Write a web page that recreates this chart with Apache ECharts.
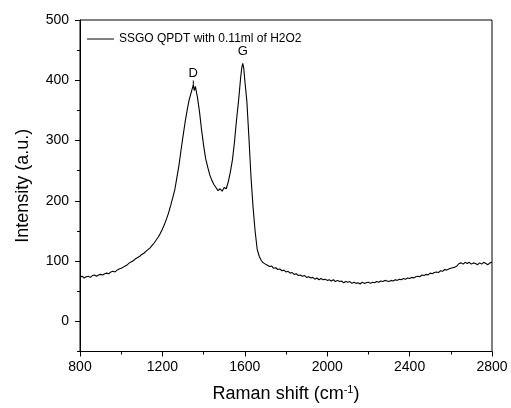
<!DOCTYPE html>
<html>
<head>
<meta charset="utf-8">
<script src="https://cdn.jsdelivr.net/npm/echarts@6/dist/echarts.min.js"></script>
<style>
html,body{margin:0;padding:0;background:#fff;}
#chart{width:511px;height:408px;}
</style>
</head>
<body>
<div id="chart"></div>
<script>
const seriesName = 'SSGO QPDT with 0.11ml of H2O2';
const ramanShift = [
800,810,820,830,840,850,860,870,880,890,900,910,920,930,940,950,960,970,980,990,
1000,1010,1020,1030,1040,1050,1060,1070,1080,1090,1100,1110,1120,1130,1140,1150,1160,1170,1180,1190,
1200,1210,1220,1230,1240,1250,1260,1270,1280,1290,1300,1310,1320,1330,1340,1345,1350,1355,1360,1370,
1380,1390,1400,1410,1420,1430,1440,1450,1460,1470,1480,1490,1500,1510,1520,1530,1540,1550,1560,1570,
1580,1585,1590,1595,1600,1610,1620,1630,1640,1650,1660,1670,1680,1690,1700,1710,1720,1730,1740,1750,
1760,1770,1780,1790,1800,1810,1820,1830,1840,1850,1860,1870,1880,1890,1900,1910,1920,1930,1940,1950,
1960,1970,1980,1990,2000,2010,2020,2030,2040,2050,2060,2070,2080,2090,2100,2110,2120,2130,2140,2150,
2160,2170,2180,2190,2200,2210,2220,2230,2240,2250,2260,2270,2280,2290,2300,2310,2320,2330,2340,2350,
2360,2370,2380,2390,2400,2410,2420,2430,2440,2450,2460,2470,2480,2490,2500,2510,2520,2530,2540,2550,
2560,2570,2580,2590,2600,2610,2620,2630,2640,2650,2660,2670,2680,2690,2700,2710,2720,2730,2740,2750,
2760,2770,2780,2790,2800
];
const intensity = [
73,75,72,74,75,73,76,77,75,77,78,77,79,80,79,82,83,82,85,87,
88,90,92,94,97,99,101,104,106,108,111,113,116,119,122,126,130,135,140,146,
153,161,170,180,192,205,218,238,258,283,307,330,350,368,380,386,392,383,390,372,
348,318,292,270,256,243,234,227,222,217,220,216,222,220,232,248,268,298,335,367,
405,420,428,420,400,365,305,240,190,150,120,108,101,97,95,93,91,92,88,89,
86,87,84,85,82,83,80,81,78,79,76,77,75,76,73,74,72,73,70,72,
69,71,69,70,68,69,67,69,66,68,66,67,64,66,65,66,63,65,63,64,
62,65,63,64,65,63,65,64,66,65,67,66,68,67,66,68,67,69,68,70,
69,71,70,72,71,73,72,74,75,74,77,76,78,77,80,79,81,82,81,84,
83,86,85,87,88,89,90,92,96,97,95,98,96,98,95,97,96,94,97,95,
98,96,94,97,98
];
const yMajorTicks = [0, 100, 200, 300, 400, 500];
const yMinorTicks = [-50, 50, 150, 250, 350, 450];
const peakLabels = [
  {name: 'D', shift: 1350, value: 388},
  {name: 'G', shift: 1590, value: 432}
];

const chart = echarts.init(document.getElementById('chart'), null, {renderer: 'canvas'});
const font = 'Liberation Sans, Arial, sans-serif';
const data = ramanShift.map((x, i) => [x, intensity[i]]);

chart.setOption({
  backgroundColor: '#fff',
  animation: false,
  grid: {left: 80, top: 20, right: 19, bottom: 56, show: true, borderColor: '#000', borderWidth: 1},
  legend: {
    left: 82, top: 28, itemWidth: 27, itemHeight: 1, itemGap: 4,
    icon: 'rect',
    data: [{name: seriesName, itemStyle: {color: '#000'}}],
    textStyle: {fontFamily: font, fontSize: 12, color: '#000', padding: [0,0,0,0]}
  },
  xAxis: {
    type: 'value', min: 800, max: 2800, interval: 400,
    name: 'Raman shift (cm{sup|-1})',
    nameLocation: 'middle', nameGap: 33,
    nameTextStyle: {fontFamily: font, fontSize: 18, color: '#000',
      rich: {sup: {fontFamily: font, fontSize: 11, color: '#000', verticalAlign: 'top', padding: [0,0,8,0]}}},
    axisLine: {onZero: false, lineStyle: {color: '#000', width: 1}},
    axisTick: {show: true, inside: false, length: 5, lineStyle: {color: '#000'}},
    minorTick: {show: true, splitNumber: 2, length: 3, lineStyle: {color: '#000'}},
    axisLabel: {fontFamily: font, fontSize: 14, color: '#000', margin: 9, formatter: v => String(v)},
    splitLine: {show: false}
  },
  yAxis: [{
    type: 'value', min: -50, max: 500,
    name: 'Intensity (a.u.)',
    nameLocation: 'middle', nameGap: 48, nameRotate: 90,
    nameTextStyle: {fontFamily: font, fontSize: 18, color: '#000'},
    axisLine: {show: true, onZero: false, lineStyle: {color: '#000', width: 1}},
    axisTick: {show: true, length: 5, lineStyle: {color: '#000'}, customValues: yMajorTicks},
    axisLabel: {fontFamily: font, fontSize: 14, color: '#000', margin: 11, customValues: yMajorTicks, formatter: v => String(v)},
    splitLine: {show: false}
  }, {
    type: 'value', min: -50, max: 500, position: 'left', offset: 0,
    axisLine: {show: false, onZero: false},
    axisTick: {show: true, length: 3, lineStyle: {color: '#000'}, customValues: yMinorTicks},
    axisLabel: {show: false},
    splitLine: {show: false}
  }],
  series: [{
    name: seriesName,
    type: 'line',
    data: data,
    showSymbol: false,
    symbol: 'none',
    lineStyle: {color: '#000', width: 1.1},
    itemStyle: {color: '#000'},
    markPoint: {
      silent: true,
      data: peakLabels.map((p, i) => ({
        coord: [p.shift, p.value],
        symbol: 'rect',
        symbolSize: i === 0 ? [1, 7] : [0.1, 0.1],
        symbolOffset: [0, i === 0 ? -3.5 : 0],
        itemStyle: {color: '#000'},
        label: {show: true, position: 'top', distance: i === 0 ? 1 : 3, formatter: p.name,
          fontFamily: font, fontSize: 13, color: '#000'}
      }))
    }
  }]
});
</script>
</body>
</html>
